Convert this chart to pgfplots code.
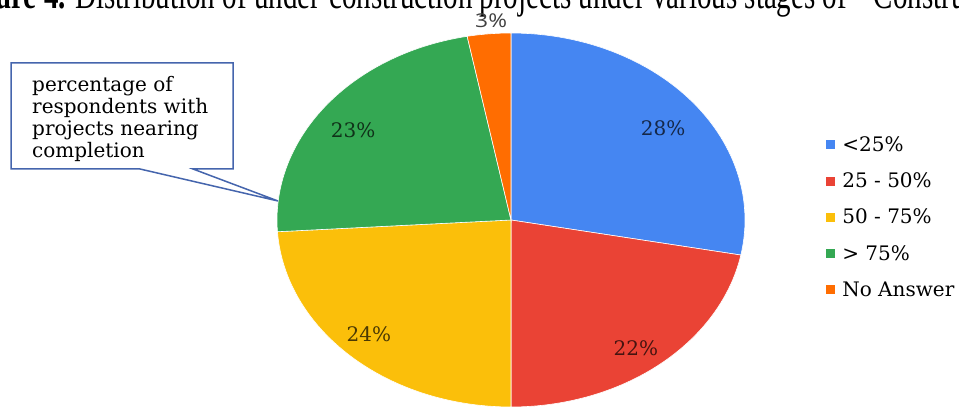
\documentclass[border=0pt]{standalone}
\usepackage{pgfplots}
\pgfplotsset{compat=1.18}
\usepackage{graphicx}
\usepackage{fontspec}
\setmainfont{DejaVu Serif}
\newfontfamily\timesfont{Liberation Serif}
\newfontfamily\labelsans{Open Sans}

\definecolor{pieblue}{HTML}{4586F2}
\definecolor{piered}{HTML}{EA4335}
\definecolor{pieyellow}{HTML}{FBBF0A}
\definecolor{piegreen}{HTML}{34A853}
\definecolor{pieorange}{HTML}{FF6D01}
\definecolor{callout}{HTML}{4565AD}

\begin{document}
\begin{tikzpicture}
\useasboundingbox (0,0) rectangle (959bp,408bp);
\clip (0,0) rectangle (959bp,408bp);

% caption line, cut at the top of the crop
\node[anchor=base east, inner sep=0, font=\timesfont\bfseries\fontsize{29bp}{30bp}\selectfont] at (66bp,399bp) {\scalebox{1}[1.4]{Figure 4.}};
\node[anchor=base west, inner sep=0, font=\timesfont\fontsize{29bp}{30bp}\selectfont] at (75bp,399bp) {\scalebox{1}[1.4]{Distribution of under-construction projects under various stages of\hspace{10bp} ‘Construction’}};

\begin{axis}[
  at={(511bp,188bp)}, anchor=center,
  scale only axis, width=468bp, height=374bp,
  xmin=-1, xmax=1, ymin=-1, ymax=1,
  hide axis, clip=false,
  legend style={at={(1.17,0.508)}, anchor=west, draw=none, fill=none, inner sep=0pt,
    font=\fontsize{20bp}{22bp}\selectfont, row sep=16bp},
  legend cell align=left,
  legend image code/.code={\fill[#1] (0bp,-5bp) rectangle (10bp,5bp); \path (15bp,0bp);},
]
% slices clockwise from 12 o'clock: 28, 22, 24, 23, 3 (%)
\addplot[fill=pieblue, draw=white, line width=0.6bp, samples=60,
  domain=90-3.6*28:90] ({cos(x)},{sin(x)}) -- (0,0) -- cycle;
\addlegendentry{<25\%}
\addplot[fill=piered, draw=white, line width=0.6bp, samples=60,
  domain=90-3.6*(28+22):90-3.6*28] ({cos(x)},{sin(x)}) -- (0,0) -- cycle;
\addlegendentry{25 - 50\%}
\addplot[fill=pieyellow, draw=white, line width=0.6bp, samples=60,
  domain=90-3.6*(28+22+24):90-3.6*(28+22)] ({cos(x)},{sin(x)}) -- (0,0) -- cycle;
\addlegendentry{50 - 75\%}
\addplot[fill=piegreen, draw=white, line width=0.6bp, samples=60,
  domain=90-3.6*(28+22+24+23):90-3.6*(28+22+24)] ({cos(x)},{sin(x)}) -- (0,0) -- cycle;
\addlegendentry{> 75\%}
\addplot[fill=pieorange, draw=white, line width=0.6bp, samples=20,
  domain=90-3.6*100:90-3.6*(28+22+24+23)] ({cos(x)},{sin(x)}) -- (0,0) -- cycle;
\addlegendentry{No Answer}

\node[font=\fontsize{20bp}{22bp}\selectfont, text=pieblue!30!black] at (axis cs:0.65,0.492) {28\%};
\node[font=\fontsize{20bp}{22bp}\selectfont, text=piered!30!black] at (axis cs:0.534,-0.684) {22\%};
\node[font=\fontsize{20bp}{22bp}\selectfont, text=pieyellow!30!black] at (axis cs:-0.607,-0.612) {24\%};
\node[font=\fontsize{20bp}{22bp}\selectfont, text=piegreen!30!black] at (axis cs:-0.675,0.481) {23\%};
\node[anchor=base, inner sep=0, font=\labelsans\fontsize{19bp}{21bp}\selectfont, text=black!75] at (axis cs:-0.085,1.027) {\scalebox{1.2}[1]{3\%}};
\end{axis}

% callout box
\draw[callout, line width=1.5bp, fill=white, line join=miter]
  (11bp,345bp) -- (233bp,345bp) -- (233bp,239bp) -- (193bp,239bp) -- (278bp,207bp)
  -- (140bp,239bp) -- (11bp,239bp) -- cycle;
\node[anchor=base west, inner sep=0, align=left, font=\fontsize{20bp}{22bp}\selectfont] at (32bp,250bp)
  {percentage of\\respondents with\\projects nearing\\completion};
\end{tikzpicture}
\end{document}
